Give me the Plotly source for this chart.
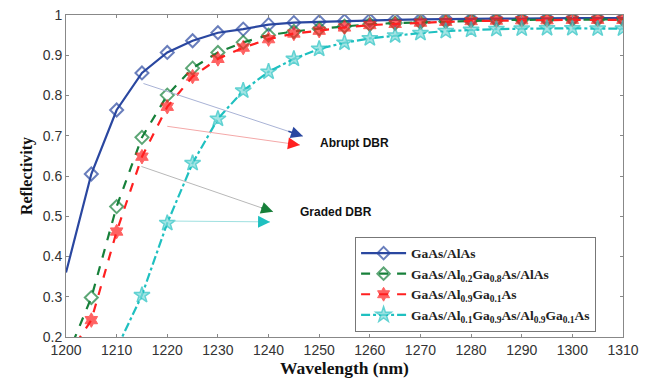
import plotly.graph_objects as go

wavelength = list(range(1200, 1311, 5))

r_abrupt_gaas_alas = [0.360, 0.605, 0.764, 0.856, 0.907, 0.936, 0.956, 0.965, 0.976, 0.981, 0.983,
                      0.985, 0.987, 0.988, 0.989, 0.990, 0.990, 0.991, 0.991, 0.992, 0.992, 0.992, 0.992]
r_graded_al02 = [0.145, 0.298, 0.524, 0.696, 0.801, 0.868, 0.907, 0.932, 0.950, 0.959, 0.966,
                 0.972, 0.977, 0.980, 0.982, 0.984, 0.986, 0.987, 0.988, 0.988, 0.989, 0.989, 0.989]
r_abrupt_al09 = [0.147, 0.242, 0.462, 0.648, 0.772, 0.847, 0.891, 0.919, 0.940, 0.954, 0.961,
                 0.969, 0.975, 0.978, 0.981, 0.983, 0.985, 0.986, 0.987, 0.987, 0.988, 0.988, 0.988]
r_graded_al01 = [0.05, 0.10, 0.171, 0.304, 0.483, 0.632, 0.742, 0.812, 0.859, 0.891, 0.916,
                 0.931, 0.942, 0.949, 0.955, 0.960, 0.963, 0.965, 0.966, 0.967, 0.967, 0.966, 0.966]

names = [
    "GaAs/AlAs",
    "GaAs/Al<sub>0.2</sub>Ga<sub>0.8</sub>As/AlAs",
    "GaAs/Al<sub>0.9</sub>Ga<sub>0.1</sub>As",
    "GaAs/Al<sub>0.1</sub>Ga<sub>0.9</sub>As/Al<sub>0.9</sub>Ga<sub>0.1</sub>As",
]
x_ticks = list(range(1200, 1311, 10))
y_ticks = [0.2, 0.3, 0.4, 0.5, 0.6, 0.7, 0.8, 0.9, 1.0]
y_ticklabels = ["0.2", "0.3", "0.4", "0.5", "0.6", "0.7", "0.8", "0.9", "1"]
x_title = "Wavelength (nm)"
y_title = "Reflectivity"

BLUE = "#2a47a0"
GREEN = "#17803a"
RED = "#ff2020"
CYAN = "#1fc0c0"

n = len(wavelength)


def sizes(s):
    # no marker drawn on the left axis edge (as in the reference)
    return [0] + [s] * (n - 1)


fig = go.Figure()
fig.add_trace(go.Scatter(x=wavelength, y=r_abrupt_gaas_alas, name=names[0], mode="lines+markers",
                         line=dict(color=BLUE, width=2.2),
                         marker=dict(symbol="diamond-open", size=sizes(10), color=BLUE, line=dict(width=2))))
fig.add_trace(go.Scatter(x=wavelength, y=r_graded_al02, name=names[1], mode="lines+markers",
                         line=dict(color=GREEN, width=2.2, dash="dash"),
                         marker=dict(symbol="diamond-open", size=sizes(10), color=GREEN, line=dict(width=2))))
fig.add_trace(go.Scatter(x=wavelength, y=r_abrupt_al09, name=names[2], mode="lines+markers",
                         line=dict(color=RED, width=2.2, dash="dash"),
                         marker=dict(symbol="hexagram", size=sizes(11), color=RED, line=dict(width=1, color=RED))))
fig.add_trace(go.Scatter(x=wavelength, y=r_graded_al01, name=names[3], mode="lines+markers",
                         line=dict(color=CYAN, width=2.2, dash="dashdot"),
                         marker=dict(symbol="star", size=sizes(12), color="#7fdada", line=dict(width=1.5, color=CYAN))))

# arrows: (tail_x, tail_y, head_x, head_y, line color, head color)
arrows = [
    (1215.0, 0.831, 1246.8, 0.699, "#a9b3d6", BLUE),
    (1219.7, 0.724, 1246.2, 0.677, "#f4a8a8", RED),
    (1214.6, 0.625, 1240.9, 0.511, "#b8b8b8", GREEN),
    (1221.1, 0.488, 1240.3, 0.486, "#9fe0e0", CYAN),
]
for tx, ty, hx, hy, lc, hc in arrows:
    fig.add_annotation(x=hx, y=hy, ax=tx, ay=ty, xref="x", yref="y", axref="x", ayref="y",
                       showarrow=True, arrowhead=0, arrowwidth=1, arrowcolor=lc, text="")
    bx = hx - 0.1 * (hx - tx)
    by = hy - 0.1 * (hy - ty)
    fig.add_annotation(x=hx, y=hy, ax=bx, ay=by, xref="x", yref="y", axref="x", ayref="y",
                       showarrow=True, arrowhead=2, arrowsize=1.6, arrowwidth=1.5, arrowcolor=hc, text="")

fig.add_annotation(x=1249.8, y=0.682, xref="x", yref="y", text="<b>Abrupt DBR</b>", showarrow=False,
                   xanchor="left", yanchor="middle", font=dict(family="Arial", size=12, color="#111"))
fig.add_annotation(x=1245.8, y=0.511, xref="x", yref="y", text="<b>Graded DBR</b>", showarrow=False,
                   xanchor="left", yanchor="middle", font=dict(family="Arial", size=12, color="#111"))

# x-axis title placed as a paper annotation so the plot area keeps its size
fig.add_annotation(x=0.5, y=-0.13, xref="paper", yref="paper", text="<b>" + x_title + "</b>",
                   showarrow=False, xanchor="center", yanchor="bottom", borderpad=0,
                   font=dict(family="Liberation Serif", size=17.5, color="#111"))

fig.update_layout(
    width=650, height=379,
    margin=dict(l=66, r=27, t=15, b=42),
    paper_bgcolor="white", plot_bgcolor="white",
    showlegend=True,
    legend=dict(x=0.519, y=0.311, xanchor="left", yanchor="top",
                bgcolor="white", bordercolor="#777", borderwidth=1,
                font=dict(family="Liberation Serif", size=13.5, color="#222", weight="bold"),
                itemwidth=45, tracegroupgap=0),
)
fig.update_xaxes(range=[1200, 1310], tickvals=x_ticks, ticks="inside", ticklen=3, tickcolor="#888",
                 showline=True, linecolor="#888", linewidth=1, mirror="ticks", showgrid=False, zeroline=False,
                 ticklabelstandoff=0, automargin=False,
                 tickfont=dict(family="Arial", size=14, color="#333"))
fig.update_yaxes(range=[0.2, 1.0], tickvals=y_ticks, ticktext=y_ticklabels, ticks="inside", ticklen=3,
                 tickcolor="#888", showline=True, linecolor="#888", linewidth=1, mirror="ticks",
                 showgrid=False, zeroline=False, automargin=False,
                 tickfont=dict(family="Arial", size=14, color="#333"),
                 title=dict(text="<b>" + y_title + "</b>", standoff=6,
                            font=dict(family="Liberation Serif", size=16, color="#111")))

fig.write_html("out.html")
